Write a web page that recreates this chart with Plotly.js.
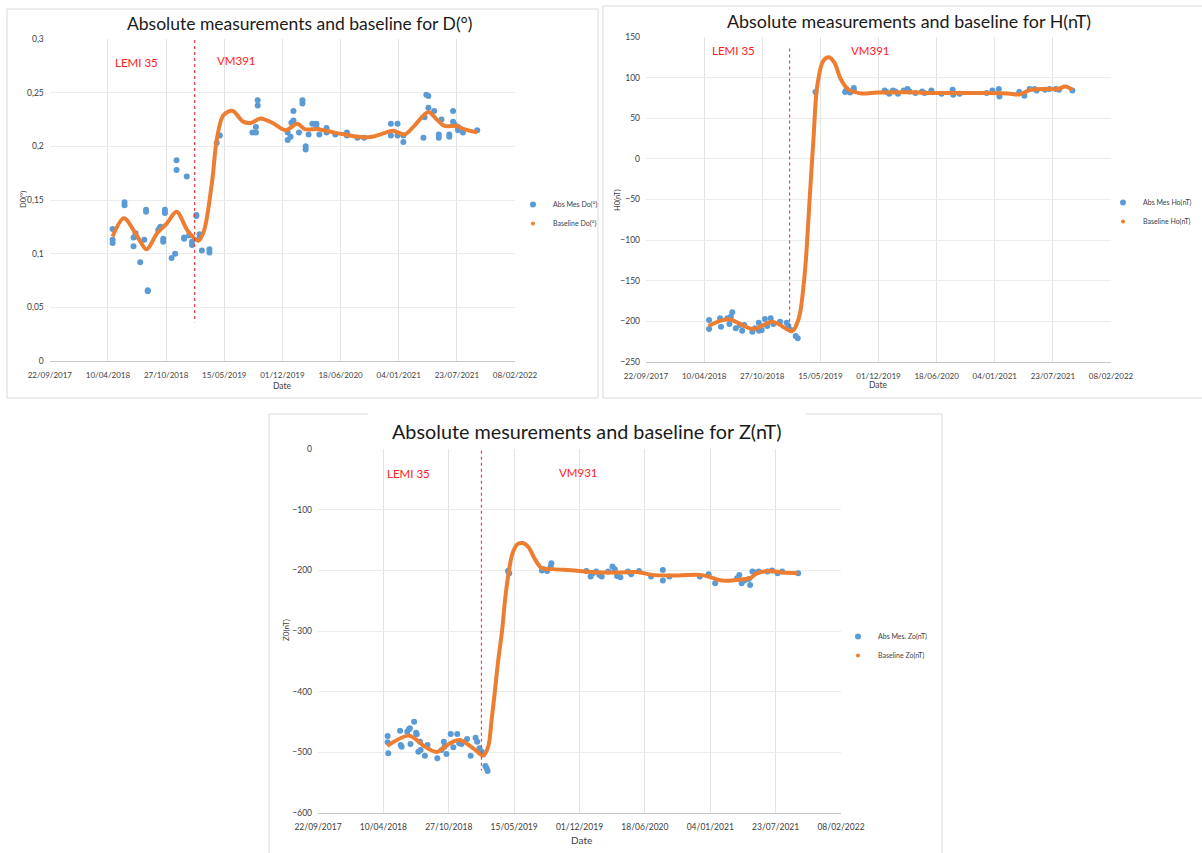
<!DOCTYPE html>
<html>
<head>
<meta charset="utf-8">
<script src="https://cdn.plot.ly/plotly-3.0.1.min.js"></script>
<style>html,body{margin:0;padding:0;background:#fff;}#chart{width:1202px;height:853px;}</style>
</head>
<body>
<div id="chart"></div>
<script>
// ---------- D (declination) ----------
const dAbsDates = ['2018-04-26','2018-04-26','2018-04-26','2018-06-06','2018-06-06','2018-07-07','2018-07-07','2018-07-14','2018-07-14','2018-07-30',
 '2018-08-13','2018-08-19','2018-08-19','2018-08-25','2018-08-25','2018-09-30','2018-10-05','2018-10-08','2018-10-17','2018-10-17',
 '2018-10-23','2018-10-23','2018-11-15','2018-11-27','2018-12-02','2018-12-02','2018-12-28','2018-12-28','2019-01-06','2019-01-14',
 '2019-01-24','2019-01-24','2019-02-08','2019-02-08','2019-02-19','2019-02-19','2019-02-27','2019-03-25','2019-03-25','2019-04-19',
 '2019-04-30','2019-08-20','2019-09-01','2019-09-01','2019-09-07','2019-09-07','2019-12-19','2019-12-19','2019-12-29','2020-01-01',
 '2020-01-08','2020-01-08','2020-01-27','2020-02-08','2020-02-08','2020-02-19','2020-02-19','2020-02-29','2020-03-13','2020-03-27',
 '2020-03-27','2020-04-06','2020-05-01','2020-05-01','2020-05-31','2020-07-10','2020-07-10','2020-08-15','2020-09-07','2020-12-08',
 '2020-12-08','2020-12-31','2020-12-31','2021-01-20','2021-01-20','2021-03-30','2021-04-03','2021-04-09','2021-04-16','2021-04-16',
 '2021-05-06','2021-05-22','2021-05-22','2021-05-31','2021-06-27','2021-06-27','2021-07-10','2021-07-10','2021-07-16','2021-07-27',
 '2021-07-27','2021-08-13','2021-10-01'];
const dAbsValues = [0.123,0.113,0.110,0.148,0.145,0.115,0.107,0.119,0.116,0.092,
 0.113,0.141,0.139,0.066,0.065,0.122,0.124,0.125,0.114,0.111,
 0.141,0.138,0.096,0.100,0.187,0.178,0.115,0.114,0.172,0.117,
 0.111,0.108,0.136,0.135,0.118,0.115,0.103,0.104,0.101,0.203,
 0.210,0.213,0.218,0.213,0.243,0.238,0.213,0.206,0.209,0.222,
 0.233,0.224,0.213,0.243,0.240,0.200,0.197,0.211,0.221,0.221,
 0.218,0.211,0.217,0.213,0.211,0.213,0.210,0.208,0.208,0.221,
 0.210,0.221,0.210,0.210,0.204,0.208,0.227,0.248,0.247,0.236,
 0.233,0.211,0.208,0.225,0.211,0.209,0.233,0.223,0.220,0.218,
 0.215,0.213,0.215];
const dBaseDates = ['2018-04-26','2018-06-04','2018-07-20','2018-08-21','2018-09-26','2018-10-29','2018-12-02','2019-01-10','2019-02-15','2019-03-06',
 '2019-04-04','2019-04-19','2019-05-12','2019-06-13','2019-07-19','2019-08-17','2019-09-16','2019-10-27','2019-12-12','2020-01-21',
 '2020-02-16','2020-04-02','2020-05-25','2020-07-03','2020-08-25','2020-10-04','2020-11-12','2020-12-15','2021-01-24','2021-02-25',
 '2021-04-16','2021-05-15','2021-06-11','2021-07-20','2021-08-22','2021-10-01'];
const dBaseValues = [0.116,0.133,0.116,0.104,0.119,0.128,0.139,0.121,0.112,0.121,
 0.169,0.206,0.229,0.233,0.223,0.222,0.226,0.222,0.215,0.221,
 0.216,0.216,0.213,0.211,0.2086,0.209,0.212,0.2145,0.211,0.2186,
 0.232,0.225,0.219,0.219,0.2155,0.213];

// ---------- H ----------
const hAbsDates = ['2018-04-27','2018-04-27','2018-06-04','2018-06-07','2018-06-29','2018-07-06','2018-07-11','2018-07-16','2018-07-28','2018-08-11',
 '2018-08-19','2018-08-26','2018-09-23','2018-10-02','2018-10-15','2018-10-16','2018-10-25','2018-11-05','2018-11-13','2018-11-25',
 '2018-12-04','2018-12-27','2019-01-19','2019-01-25','2019-02-02','2019-02-19','2019-02-26',
 '2019-04-28','2019-08-08','2019-08-12','2019-08-25','2019-09-07','2019-09-07','2019-12-22','2019-12-29','2020-01-07','2020-01-20',
 '2020-01-28','2020-02-06','2020-02-26','2020-03-10','2020-03-17','2020-04-06','2020-04-29','2020-05-07','2020-05-31','2020-07-05',
 '2020-08-12','2020-08-14','2020-09-05','2020-12-07','2020-12-27','2021-01-18','2021-01-20','2021-03-29','2021-04-16','2021-05-04',
 '2021-05-21','2021-05-28','2021-06-26','2021-07-11','2021-08-02','2021-08-13','2021-09-28'];
const hAbsValues = [-198.3,-209.4,-196.2,-206.6,-196.2,-203.2,-194.3,-188.8,-208.5,-204.5,
 -211.5,-204.5,-212.7,-208.5,-201.6,-211.5,-210.6,-197.1,-205.7,-196.2,
 -203.2,-200.4,-201.6,-205.7,-210.6,-218.0,-220.8,
 82.2,82.2,84.2,81.8,87.1,84.2,84.2,82.2,80.1,84.2,
 83.0,80.1,84.2,85.9,83.0,81.0,83.0,81.0,84.2,80.1,
 85.0,78.9,80.1,81.0,84.2,85.9,76.8,82.2,77.6,85.9,
 85.9,84.2,85.0,85.9,85.9,85.0,84.2];
const hBaseDates = ['2018-04-25','2018-07-02','2018-09-26','2018-12-01','2019-02-07','2019-02-22','2019-03-06','2019-03-17','2019-03-26','2019-04-08',
 '2019-04-21','2019-05-04','2019-05-24','2019-06-13','2019-07-03','2019-07-23','2019-08-18','2019-10-03','2019-11-26','2020-03-10',
 '2020-07-01','2020-12-01','2021-02-18','2021-03-29','2021-05-08','2021-07-14','2021-08-09','2021-09-04','2021-09-28'];
const hBaseValues = [-205.7,-197.5,-209.5,-200.5,-212,-204,-190,-160,-125,-50,
 23,89,120,125,118,99,86,80.5,81.8,82,
 81,81,80.5,79.3,85,85.9,86,89,85];

// ---------- Z ----------
const zAbsDates = ['2018-04-23','2018-04-23','2018-04-25','2018-05-31','2018-06-02','2018-06-05','2018-06-22','2018-06-27','2018-06-30','2018-07-02',
 '2018-07-13','2018-07-19','2018-07-21','2018-07-26','2018-07-31','2018-08-02','2018-08-15','2018-08-23','2018-09-22','2018-10-05',
 '2018-10-12','2018-10-14','2018-10-20','2018-11-02','2018-11-10','2018-11-22','2018-11-28','2018-12-05','2018-12-22','2019-01-02',
 '2019-01-17','2019-01-22','2019-01-29','2019-02-05','2019-02-16','2019-02-20','2019-02-23',
 '2019-04-26','2019-04-30','2019-08-08','2019-08-13','2019-08-24','2019-09-04','2019-09-06','2019-12-22','2020-01-04','2020-01-11',
 '2020-01-21','2020-01-31','2020-02-07','2020-02-27','2020-03-11','2020-03-18','2020-03-25','2020-04-04','2020-04-27','2020-05-07',
 '2020-05-31','2020-07-07','2020-08-12','2020-08-12','2020-09-01','2020-12-03','2020-12-30','2021-01-19','2021-03-27','2021-04-03',
 '2021-04-10','2021-04-19','2021-05-02','2021-05-06','2021-05-13','2021-05-24','2021-06-02','2021-06-28','2021-07-12','2021-07-29',
 '2021-08-12','2021-09-30'];
const zAbsValues = [-473.1,-483.5,-501.6,-464.3,-487.9,-490.6,-465.9,-462.1,-460.4,-486.2,
 -449.4,-467.6,-470.3,-498.9,-482.4,-496.1,-505.5,-487.9,-509.9,-496.1,
 -482.4,-490.6,-502.7,-469.8,-491.7,-469.8,-485.1,-486.2,-478.0,-505.5,
 -475.8,-482.4,-493.4,-498.9,-522.5,-526.4,-530.8,
 -201.0,-204.8,-200.4,-198.2,-201.0,-193.8,-188.3,-201.0,-210.3,-204.8,
 -202.0,-207.5,-210.3,-202.0,-193.8,-198.2,-209.2,-211.4,-202.0,-206.4,
 -201.0,-210.3,-199.3,-216.9,-210.3,-210.3,-206.4,-221.2,-213.0,-207.5,
 -221.2,-216.9,-214.1,-224.0,-202.0,-203.7,-202.0,-202.0,-200.4,-204.8,
 -202.0,-204.8];
const zBaseDates = ['2018-04-22','2018-06-28','2018-08-15','2018-09-20','2018-10-31','2018-11-30','2019-01-10','2019-02-10','2019-02-25','2019-03-07',
 '2019-03-17','2019-03-27','2019-04-08','2019-04-18','2019-04-28','2019-05-10','2019-05-25','2019-06-10','2019-06-28','2019-07-18',
 '2019-08-07','2019-09-10','2019-11-05','2020-01-15','2020-03-25','2020-05-30','2020-07-10','2020-09-01','2020-12-03','2020-12-30',
 '2021-02-08','2021-04-16','2021-05-06','2021-05-26','2021-07-05','2021-08-14','2021-09-30'];
const zBaseValues = [-489.5,-472.5,-490.6,-499.4,-485,-479.7,-493.4,-505.5,-490,-447,
 -400,-350,-300,-245,-205,-172,-157,-155,-162,-182,
 -196,-198,-200,-203,-203.7,-203,-207.5,-208.6,-207.5,-210.3,
 -216.9,-214.7,-213,-205,-201,-203.7,-204.8];

// instrument change (LEMI 35 -> VM391)
const changeDates = ['2019-02-02','2019-01-29','2019-02-04'];

// ---------- styling / layout ----------
const W = 1202, H = 853;
const px = v => v / W, py = v => 1 - v / H;
const FONT = 'Lato, "Open Sans", sans-serif';
const BLUE = '#5b9bd5', ORANGE = '#ed7d31', GRID = '#e3e3e3';
const DAY = 86400000;

function xAxis(dom, anchor, fs) {
  return {domain: dom, anchor: anchor, type: 'date', range: ['2017-09-22', '2022-02-08'],
    tick0: '2017-09-22', dtick: 200 * DAY, tickformat: '%d/%m/%Y',
    showgrid: true, gridcolor: GRID, gridwidth: 1, zeroline: false,
    showline: true, linecolor: '#c8c8c8', linewidth: 1, ticks: '',
    ticklabelstandoff: 6, tickfont: {family: FONT, size: fs, color: '#404040'}, fixedrange: true};
}
function yAxis(dom, anchor, range, dtick) {
  return {domain: dom, anchor: anchor, range: range, dtick: dtick, tick0: 0,
    showgrid: true, gridcolor: '#ececec', gridwidth: 1, zeroline: false, showline: false, ticks: '',
    ticklabelstandoff: 5, tickfont: {family: FONT, size: 8.5, color: '#404040'}, fixedrange: true};
}

const traces = [];
function addSet(xa, ya, leg, absX, absY, baseX, baseY, absName, baseName, msize, lw) {
  traces.push({x: absX, y: absY, xaxis: xa, yaxis: ya, type: 'scatter', mode: 'markers', name: absName,
    legend: leg, marker: {color: BLUE, size: msize}});
  traces.push({x: baseX, y: baseY, xaxis: xa, yaxis: ya, type: 'scatter', mode: 'lines', name: baseName,
    legend: leg, showlegend: false, line: {color: ORANGE, width: lw, shape: 'spline', smoothing: 0.9}});
  traces.push({x: [null], y: [null], xaxis: xa, yaxis: ya, type: 'scatter', mode: 'markers', name: baseName,
    legend: leg, marker: {color: ORANGE, size: 4}});
}
addSet('x', 'y', 'legend', dAbsDates, dAbsValues, dBaseDates, dBaseValues, 'Abs Mes Do(°)', 'Baseline Do(°)', 6, 4);
addSet('x2', 'y2', 'legend2', hAbsDates, hAbsValues, hBaseDates, hBaseValues, 'Abs Mes Ho(nT)', 'Baseline Ho(nT)', 6, 4);
addSet('x3', 'y3', 'legend3', zAbsDates, zAbsValues, zBaseDates, zBaseValues, 'Abs Mes. Zo(nT)', 'Baseline Zo(nT)', 6, 4);

function leg(xl, ym) {
  return {x: px(xl), y: py(ym), xanchor: 'left', yanchor: 'middle', bgcolor: 'rgba(0,0,0,0)',
    font: {family: FONT, size: 7, color: '#404040'}, itemwidth: 30, tracegroupgap: 0};
}
function ann(text, x, y, size, color, extra) {
  return Object.assign({text: text, x: px(x), y: py(y), xref: 'paper', yref: 'paper', showarrow: false,
    xanchor: 'center', yanchor: 'middle', font: {family: FONT, size: size, color: color}}, extra || {});
}
function frameLine(x0, y0, x1, y1) {
  return {type: 'line', xref: 'paper', yref: 'paper', x0: px(x0), y0: py(y0), x1: px(x1), y1: py(y1),
    line: {color: '#d9d9d9', width: 1}};
}
function redLine(xa, ya, d, yTop, yBot) {
  return {type: 'line', xref: xa, yref: ya, x0: d, x1: d, y0: yTop, y1: yBot, layer: 'above',
    line: {color: '#ff3b3b', width: 1.2, dash: 'dot'}};
}

const layout = {
  width: W, height: H, margin: {l: 0, r: 0, t: 0, b: 0}, paper_bgcolor: '#ffffff', plot_bgcolor: '#ffffff',
  separators: ', ', showlegend: true,
  xaxis: xAxis([px(49.8), px(515)], 'y', 8),
  yaxis: yAxis([py(361), py(39)], 'x', [0, 0.3], 0.05),
  xaxis2: xAxis([px(646), px(1111)], 'y2', 8),
  yaxis2: yAxis([py(362), py(37)], 'x2', [-250, 150], 50),
  xaxis3: xAxis([px(318), px(841)], 'y3', 8.5),
  yaxis3: yAxis([py(813), py(449)], 'x3', [-600, 0], 100),
  legend: leg(513, 214),
  legend2: leg(1103, 212),
  legend3: leg(838, 646),
  annotations: [
    ann('Absolute measurements and baseline for D(°)', 300, 24, 17.5, '#1a1a1a'),
    ann('Absolute measurements and baseline for H(nT)', 909, 21, 17.9, '#1a1a1a'),
    ann('Absolute mesurements and baseline for Z(nT)', 586, 431, 19.8, '#1a1a1a'),
    ann('D0(°)', 23, 200, 7.5, '#404040', {textangle: -90}),
    ann('H0(nT)', 617, 200, 7.5, '#404040', {textangle: -90}),
    ann('Z0(nT)', 286, 630, 8, '#404040', {textangle: -90}),
    ann('Date', 282, 386, 8.5, '#404040'),
    ann('Date', 878, 385, 8.5, '#404040'),
    ann('Date', 581, 840, 10, '#404040'),
    ann('LEMI 35', 136, 62, 11.5, '#ff2020'),
    ann('VM391', 236, 61, 11.5, '#ff2020'),
    ann('LEMI 35', 733, 51, 11.5, '#ff2020'),
    ann('VM391', 870, 51, 11.5, '#ff2020'),
    ann('LEMI 35', 409, 473, 11.5, '#ff2020'),
    ann('VM931', 578, 472, 11.5, '#ff2020')
  ],
  shapes: [
    // chart frames
    frameLine(7, 9, 598, 9), frameLine(7, 9, 7, 398), frameLine(7, 398, 598, 398), frameLine(598, 9, 598, 398),
    frameLine(603, 6, 1202, 6), frameLine(603, 6, 603, 398), frameLine(603, 398, 1202, 398),
    frameLine(269, 414, 368, 414), frameLine(806, 414, 942, 414), frameLine(269, 414, 269, 853), frameLine(942, 414, 942, 853),
    // instrument change markers
    redLine('x', 'y', changeDates[0], 0.299, 0.036),
    redLine('x2', 'y2', changeDates[1], 136, -212),
    redLine('x3', 'y3', changeDates[2], -3, -530)
  ]
};

Plotly.newPlot('chart', traces, layout, {displayModeBar: false, staticPlot: true});
</script>
</body>
</html>
